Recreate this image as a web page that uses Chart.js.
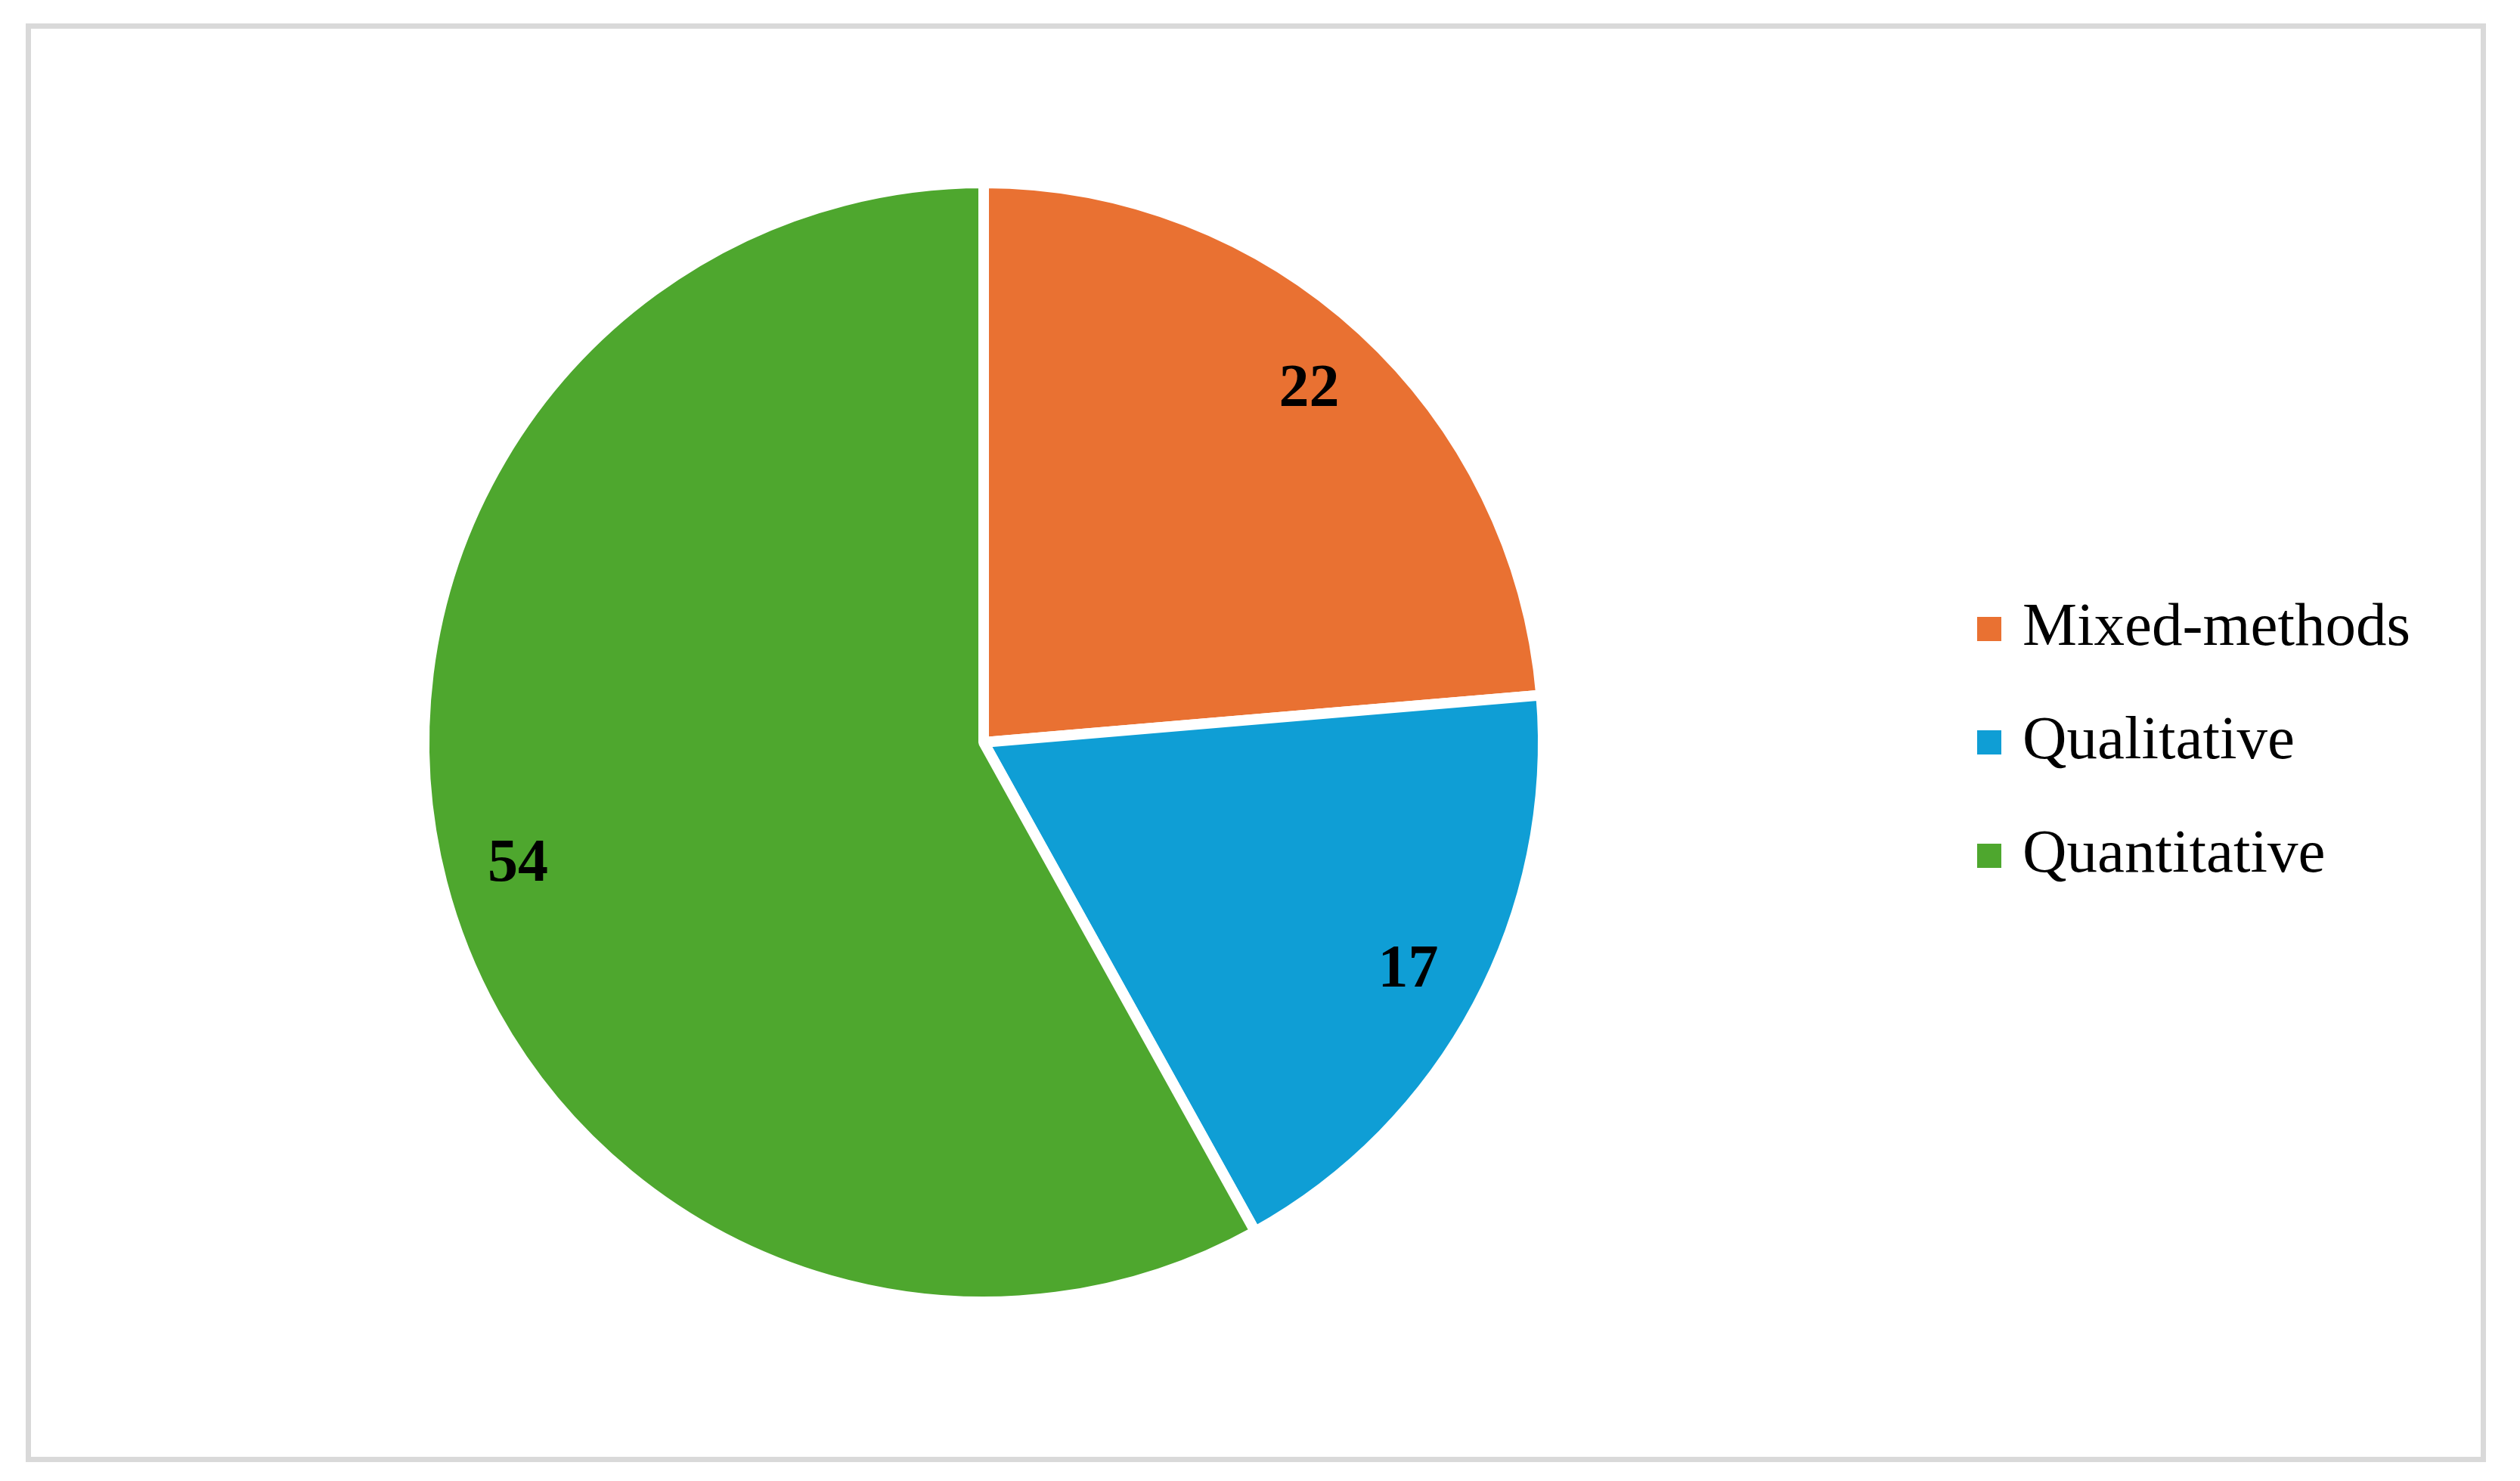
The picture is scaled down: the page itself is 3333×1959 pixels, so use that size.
<!DOCTYPE html>
<html>
<head>
<meta charset="utf-8">
<script src="https://cdn.jsdelivr.net/npm/chart.js@4/dist/chart.umd.min.js"></script>
<style>
    body { margin: 0; background: #fff; }
    #wrap { position: relative; width: 3333px; height: 1959px; }
    #frame { position: absolute; left: 34px; top: 31px; width: 3240px; height: 1889px; border: 7px solid #d9d9d9; }
    #pieChart { position: absolute; left: 0; top: 0; }
    #legend { position: absolute; left: 2615px; top: 757px; font-family: "Palatino Linotype", "Book Antiqua", "Liberation Serif", serif; }
    .item { display: flex; align-items: center; height: 150px; }
    .box { width: 32px; height: 32px; margin-right: 28px; flex: none; }
    .label { font-size: 81px; color: #000; white-space: nowrap; position: relative; top: -6px; }
</style>
</head>
<body>
<div id="wrap">
    <div id="frame"></div>
    <canvas id="pieChart" width="3333" height="1959"></canvas>
    <div id="legend"></div>
</div>
<script>
const categories = ['Mixed-methods', 'Qualitative', 'Quantitative'];
const counts = [22, 17, 54];
const colors = ['#e97132', '#0f9ed5', '#4ea72e'];

// numbers on the slices, drawn near the outer edge like excel does
const sliceLabels = {
    id: 'sliceLabels',
    afterDatasetsDraw(chart) {
        const ctx = chart.ctx;
        const meta = chart.getDatasetMeta(0);
        ctx.save();
        ctx.font = 'bold 80px "Palatino Linotype", "Book Antiqua", "Liberation Serif", serif';
        ctx.fillStyle = '#000';
        ctx.textAlign = 'center';
        ctx.textBaseline = 'middle';
        meta.data.forEach((arc, i) => {
            const p = arc.getProps(['x', 'y', 'startAngle', 'endAngle', 'outerRadius'], true);
            const mid = (p.startAngle + p.endAngle) / 2;
            const r = p.outerRadius * 0.86;
            ctx.fillText(String(counts[i]), p.x + Math.cos(mid) * r, p.y + Math.sin(mid) * r + 3);
        });
        ctx.restore();
    }
};

new Chart(document.getElementById('pieChart'), {
    type: 'pie',
    data: {
        labels: categories,
        datasets: [{
            data: counts,
            backgroundColor: colors,
            borderColor: '#ffffff',
            borderWidth: 14
        }]
    },
    options: {
        responsive: false,
        animation: false,
        layout: { padding: { left: 554, right: 1285, top: 235, bottom: 230 } },
        plugins: {
            legend: { display: false },
            tooltip: { enabled: false }
        }
    },
    plugins: [sliceLabels]
});

const legend = document.getElementById('legend');
categories.forEach((name, i) => {
    const item = document.createElement('div');
    item.className = 'item';
    item.innerHTML = `<span class="box" style="background:${colors[i]}"></span><span class="label">${name}</span>`;
    legend.appendChild(item);
});
</script>
</body>
</html>
